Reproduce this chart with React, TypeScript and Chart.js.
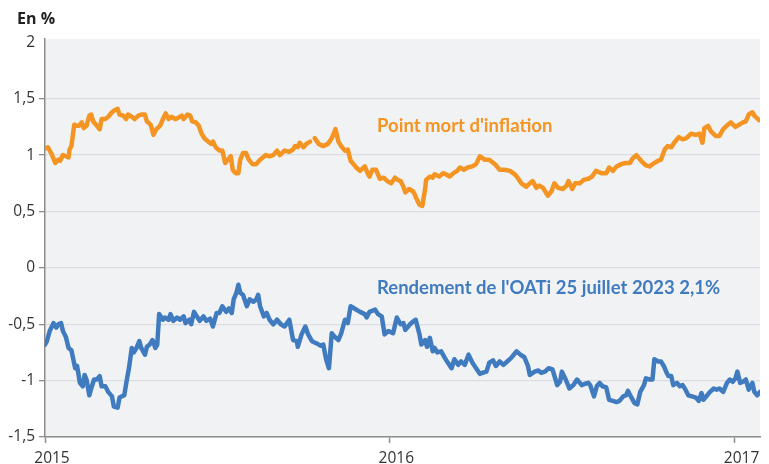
import React, { useEffect, useRef } from "react";
import { Chart, registerables } from "chart.js";
Chart.register(...registerables);

// x values are days since 2015-01-01
const yearTicks = [0, 365, 731];
const yearLabels = ["2015", "2016", "2017"];
const yTicks = [-1.5, -1, -0.5, 0, 0.5, 1, 1.5, 2];

const inflLabel = "Point mort d'inflation";
const oatiLabel = "Rendement de l'OATi 25 juillet 2023 2,1%";
const unitLabel = "En %";

const inflDays = [0,3,7,11,14,16,19,22,25,26,28,31,34,36,39,41,44,47,49,51,55,58,60,64,67,71,74,77,79,83,86,88,92,95,99,102,106,108,112,115,118,122,125,128,131,134,138,141,145,147,151,154,156,160,163,166,169,173,176,178,181,185,188,191,194,197,199,202,205,207,210,213,216,220,224,228,231,234,238,242,246,249,254,259,263,265,268,270,274,277,281,283,286,290,295,300,304,308,311,314,318,321,324,327,330,334,339,342,344,347,351,355,359,363,367,371,374,377,380,382,386,390,392,394,397,400,403,404,408,411,413,418,422,425,429,433,437,440,444,448,453,457,461,466,471,477,482,487,493,498,501,505,510,514,517,521,524,528,533,537,540,544,549,553,555,559,562,567,571,576,580,584,590,595,598,602,606,611,615,620,623,627,632,637,641,644,650,653,657,660,664,667,672,676,680,685,690,694,697,699,703,706,711,715,719,724,727,732,736,740,743,746,750,752,757];
const inflValues = [1.06,1.07,1.01,0.93,0.96,0.95,1.00,0.99,0.98,1.05,1.08,1.27,1.26,1.26,1.29,1.24,1.26,1.35,1.36,1.30,1.26,1.23,1.32,1.32,1.34,1.38,1.40,1.41,1.36,1.35,1.32,1.36,1.34,1.32,1.35,1.36,1.36,1.30,1.27,1.18,1.23,1.26,1.32,1.37,1.32,1.34,1.32,1.33,1.35,1.32,1.36,1.35,1.30,1.29,1.26,1.19,1.15,1.12,1.10,1.12,1.07,1.04,1.04,0.93,0.96,0.99,0.87,0.84,0.84,0.96,1.02,1.02,0.96,0.92,0.92,0.96,0.98,1.00,0.99,1.00,1.04,1.00,1.04,1.03,1.05,1.08,1.07,1.11,1.07,1.10,1.12,null,1.15,1.10,1.08,1.10,1.15,1.23,1.12,1.08,1.04,1.05,0.95,0.92,0.89,0.86,0.90,0.84,0.81,0.87,0.87,0.79,0.80,0.77,0.75,0.80,0.78,0.77,0.72,0.67,0.70,0.68,0.65,0.61,0.56,0.55,0.70,0.78,0.81,0.80,0.83,0.81,0.84,0.83,0.81,0.84,0.86,0.89,0.87,0.89,0.90,0.92,0.99,0.96,0.96,0.92,0.87,0.87,0.86,0.83,0.80,0.75,0.72,0.75,0.77,0.71,0.73,0.71,0.64,0.68,0.75,0.71,0.70,0.73,0.77,0.70,0.75,0.75,0.78,0.79,0.81,0.86,0.84,0.84,0.89,0.86,0.90,0.92,0.93,0.93,0.97,1.00,0.95,0.91,0.90,0.92,0.95,0.96,1.05,1.08,1.07,1.11,1.16,1.14,1.15,1.19,1.18,1.19,1.11,1.24,1.26,1.21,1.17,1.17,1.23,1.27,1.29,1.25,1.27,1.29,1.30,1.36,1.38,1.35,1.31];

const oatiDays = [0,2,5,9,12,14,17,19,22,25,28,30,32,34,37,40,42,44,47,49,52,55,58,60,64,67,71,73,77,79,84,87,89,92,94,97,100,102,106,108,111,114,117,119,121,125,127,131,133,136,140,143,147,149,153,155,158,161,164,168,171,175,178,182,185,188,192,195,198,200,203,205,207,210,214,217,221,224,226,228,232,235,238,242,246,250,254,259,263,267,268,272,276,279,283,288,292,295,298,301,304,307,311,314,318,321,324,328,334,339,341,344,350,353,357,360,364,369,373,377,380,382,387,391,393,397,399,403,405,408,411,413,416,420,424,427,431,434,438,441,445,449,453,457,461,464,468,471,475,478,482,486,490,494,498,500,504,508,512,514,519,523,526,530,534,538,543,546,548,552,556,560,564,569,572,576,578,582,585,588,591,595,598,602,606,609,613,616,618,621,625,628,631,635,637,641,644,646,650,653,656,659,661,664,666,670,673,676,679,682,686,690,693,696,698,702,705,709,712,715,719,723,726,729,732,734,737,740,743,746,750,752,755,758];
const oatiValues = [-0.68,-0.65,-0.56,-0.49,-0.53,-0.50,-0.49,-0.56,-0.61,-0.71,-0.73,-0.81,-0.89,-0.87,-1.02,-1.05,-0.95,-0.99,-1.13,-1.07,-0.99,-0.99,-0.96,-1.05,-1.05,-1.10,-1.14,-1.23,-1.24,-1.15,-1.13,-0.98,-0.89,-0.71,-0.75,-0.71,-0.65,-0.71,-0.77,-0.70,-0.68,-0.64,-0.71,-0.68,-0.41,-0.46,-0.44,-0.46,-0.41,-0.47,-0.44,-0.46,-0.43,-0.49,-0.46,-0.50,-0.39,-0.43,-0.47,-0.43,-0.47,-0.45,-0.52,-0.40,-0.40,-0.34,-0.39,-0.36,-0.40,-0.28,-0.22,-0.15,-0.22,-0.24,-0.34,-0.28,-0.30,-0.28,-0.24,-0.34,-0.43,-0.40,-0.46,-0.50,-0.46,-0.50,-0.52,-0.46,-0.64,-0.65,-0.70,-0.59,-0.52,-0.59,-0.65,-0.67,-0.69,-0.68,-0.81,-0.89,-0.58,-0.61,-0.64,-0.58,-0.46,-0.49,-0.34,-0.36,-0.39,-0.41,-0.44,-0.39,-0.37,-0.41,-0.43,-0.59,-0.56,-0.58,-0.44,-0.50,-0.49,-0.55,-0.50,-0.47,-0.46,-0.59,-0.68,-0.64,-0.70,-0.62,-0.74,-0.71,-0.75,-0.74,-0.80,-0.84,-0.89,-0.81,-0.86,-0.83,-0.86,-0.77,-0.84,-0.89,-0.94,-0.93,-0.92,-0.84,-0.82,-0.87,-0.83,-0.86,-0.83,-0.80,-0.76,-0.74,-0.77,-0.79,-0.87,-0.95,-0.92,-0.91,-0.93,-0.92,-0.89,-0.90,-1.04,-1.01,-0.92,-0.99,-1.07,-1.04,-0.99,-1.04,-1.03,-1.02,-1.04,-1.14,-1.05,-1.02,-1.05,-1.06,-1.17,-1.18,-1.19,-1.18,-1.14,-1.13,-1.09,-1.14,-1.20,-1.21,-1.10,-1.04,-0.98,-0.99,-0.99,-0.81,-0.83,-0.83,-0.87,-0.93,-0.96,-0.96,-1.04,-1.02,-1.05,-1.04,-1.08,-1.13,-1.14,-1.15,-1.18,-1.11,-1.17,-1.13,-1.10,-1.07,-1.08,-1.07,-1.10,-1.02,-0.99,-1.01,-0.98,-0.92,-1.02,-1.01,-0.99,-1.08,-1.02,-1.10,-1.13,-1.10];

// label anchors in data units (day, value)
const inflLabelPos = [352, 1.26];
const oatiLabelPos = [352, -0.175];

const ORANGE = "#F39423";
const BLUE = "#3F7BBE";
const AXIS = "#8c8c8c";
const GRID = "#dcdde1";

const decor = {
  id: "decor",
  beforeDraw(chart: any) {
    const { ctx, chartArea } = chart;
    const { left, top, right, bottom } = chartArea;
    ctx.save();
    ctx.fillStyle = "#f1f2f4";
    ctx.fillRect(left, top, right - left, bottom - top);
    ctx.restore();
  },
  afterDatasetsDraw(chart: any) {
    const ctx = chart.ctx;
    const xs = chart.scales.x;
    const ys = chart.scales.y;
    ctx.save();
    ctx.font = 'bold 16px "Open Sans"';
    ctx.fillStyle = "#222";
    ctx.textBaseline = "alphabetic";
    ctx.textAlign = "left";
    ctx.fillText(unitLabel, 17, 24);
    ctx.textBaseline = "middle";
    ctx.font = 'bold 18.5px Lato';
    ctx.fillStyle = ORANGE;
    ctx.fillText(inflLabel, xs.getPixelForValue(inflLabelPos[0]), ys.getPixelForValue(inflLabelPos[1]));
    ctx.fillStyle = BLUE;
    ctx.fillText(oatiLabel, xs.getPixelForValue(oatiLabelPos[0]), ys.getPixelForValue(oatiLabelPos[1]));
    ctx.restore();
  },
};

export default function App() {
  const ref = useRef<HTMLCanvasElement | null>(null);
  useEffect(() => {
    if (!ref.current) return;
    const chart = new Chart(ref.current, {
      type: "line",
      data: {
        datasets: [
          {
            label: inflLabel,
            data: inflDays.map((d, i) => ({ x: d, y: inflValues[i] })),
            borderColor: ORANGE,
            borderWidth: 4.5,
            pointRadius: 0,
            tension: 0,
            spanGaps: false,
            borderJoinStyle: "round",
            borderCapStyle: "round",
          },
          {
            label: oatiLabel,
            data: oatiDays.map((d, i) => ({ x: d, y: oatiValues[i] })),
            borderColor: BLUE,
            borderWidth: 4.5,
            pointRadius: 0,
            tension: 0,
            borderJoinStyle: "round",
            borderCapStyle: "round",
          },
        ],
      },
      options: {
        animation: false,
        responsive: true,
        maintainAspectRatio: false,
        devicePixelRatio: 1,
        layout: { padding: { top: 39, right: 9, left: 0, bottom: 0 } },
        plugins: { legend: { display: false }, tooltip: { enabled: false } },
        scales: {
          x: {
            type: "linear",
            min: 0,
            max: 758,
            afterBuildTicks: (s: any) => {
              s.ticks = yearTicks.map((v) => ({ value: v }));
            },
            afterFit: (s: any) => {
              s.height = 27;
            },
            ticks: {
              autoSkip: false,
              maxRotation: 0,
              labelOffset: 7,
              padding: 6,
              color: "#333",
              font: { family: "Open Sans", size: 15.5 },
              callback: (v: any) => {
                const i = yearTicks.indexOf(Number(v));
                return i >= 0 ? yearLabels[i] : "";
              },
            },
            grid: { drawOnChartArea: false, drawTicks: true, tickLength: 6, tickColor: AXIS, tickWidth: 1.5 },
            border: { color: AXIS, width: 1.5 },
          },
          y: {
            type: "linear",
            min: -1.5,
            max: 2.03,
            afterBuildTicks: (s: any) => {
              s.ticks = yTicks.map((v) => ({ value: v }));
            },
            afterFit: (s: any) => {
              s.width = 45;
            },
            ticks: {
              padding: 4,
              color: "#333",
              font: { family: "Open Sans", size: 15.5 },
              callback: (v: any) => String(v).replace(".", ","),
            },
            grid: {
              color: (c: any) => (c.tick && c.tick.value === 2 ? "rgba(0,0,0,0)" : GRID),
              tickColor: (c: any) => (c.tick && c.tick.value === 2 ? "rgba(0,0,0,0)" : AXIS),
              lineWidth: 1.3,
              tickLength: 6,
              tickWidth: 1.3,
            },
            border: { color: AXIS, width: 1.5 },
          },
        },
      },
      plugins: [decor],
    });
    return () => chart.destroy();
  }, []);
  return (
    <div style={{ position: "absolute", left: 0, top: 0, width: 769, height: 464, background: "#fff" }}>
      <canvas ref={ref} width={769} height={464} />
    </div>
  );
}
